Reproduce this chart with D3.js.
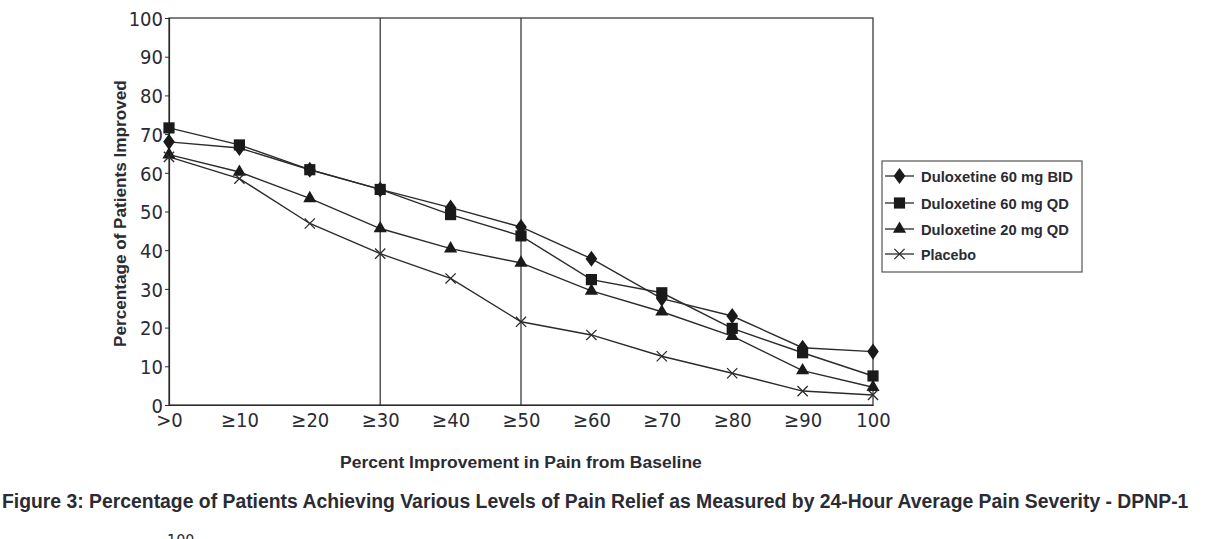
<!DOCTYPE html>
<html><head><meta charset="utf-8">
<script src="https://cdn.jsdelivr.net/npm/d3@7"></script>
<style>
body{margin:0;background:#fff;}
svg{display:block;}
text{font-family:"DejaVu Sans Condensed","Liberation Sans",sans-serif;fill:#2b2b33;}
.b{font-family:"Liberation Sans",Arial,sans-serif;font-weight:bold;}
</style></head><body>
<svg id="c" width="1221" height="539"></svg>
<script>
const categories = [">0","≥10","≥20","≥30","≥40","≥50","≥60","≥70","≥80","≥90","100"];
const bid60 = [68.0,66.4,60.8,55.7,51.0,46.0,37.8,27.5,23.0,14.8,13.8];
const qd60  = [71.6,67.2,60.8,55.7,49.2,43.7,32.4,29.0,19.8,13.5,7.5];
const qd20  = [64.7,60.2,53.4,45.6,40.4,36.7,29.5,24.1,17.8,8.9,4.6];
const placebo = [64.1,58.5,46.9,39.1,32.7,21.5,18.1,12.6,8.2,3.6,2.6];
const seriesNames = ["Duloxetine 60 mg BID","Duloxetine 60 mg QD","Duloxetine 20 mg QD","Placebo"];
const yTicks = [0,10,20,30,40,50,60,70,80,90,100];
const refLines = ["≥30","≥50"];

const svg = d3.select("#c");
const L=169,R=873,T=18,B=405;
const x = d3.scalePoint().domain(categories).range([L,R]);
const y = d3.scaleLinear().domain([0,100]).range([B,T]);
const ink="#2b2b2b";

// condensed bold text: natural text, horizontally scaled to a target width
function fitText(g, str, tx, ty, size, width, rot){
  const t = g.append("text").attr("class","b").style("font-size",size+"px").text(str);
  const w = t.node().getComputedTextLength();
  const s = width / w;
  t.attr("transform",`translate(${tx},${ty})` + (rot?` rotate(${rot})`:"") + ` scale(${s},1)`);
  return t;
}

svg.append("rect").attr("x",L).attr("y",T).attr("width",R-L).attr("height",B-T)
  .attr("fill","none").attr("stroke",ink).attr("stroke-width",1.2);

refLines.forEach(c=>{
  svg.append("line").attr("x1",x(c)).attr("x2",x(c)).attr("y1",T).attr("y2",B)
   .attr("stroke",ink).attr("stroke-width",1.2);
});

const ya = svg.append("g").attr("transform",`translate(${L},0)`)
  .call(d3.axisLeft(y).tickValues(yTicks).tickSize(4).tickPadding(2));
ya.select(".domain").attr("stroke",ink).attr("stroke-width",1.2);
ya.selectAll("line").attr("stroke",ink);
ya.selectAll("text").style("font-size","20px").attr("fill","#2b2b33").attr("dy","0.36em");

const xa = svg.append("g").attr("transform",`translate(0,${B})`)
  .call(d3.axisBottom(x).tickSize(0).tickPadding(8));
xa.select(".domain").attr("stroke",ink).attr("stroke-width",1.2);
xa.selectAll("text").style("font-size","20px").attr("fill","#2b2b33");

fitText(svg,"Percent Improvement in Pain from Baseline",340,468,17,362);
fitText(svg,"Percentage of Patients Improved",126,347,17,267,-90);
fitText(svg,"Figure 3: Percentage of Patients Achieving Various Levels of Pain Relief as Measured by 24-Hour Average Pain Severity - DPNP-1",2,508,21,1187);

svg.append("text").attr("x",167).attr("y",546).style("font-size","16px").attr("fill","#bbb").text("100");

const data = [bid60,qd60,qd20,placebo];
const symbols = [d3.symbolDiamond, d3.symbolSquare, d3.symbolTriangle, d3.symbolTimes];
const sizes = [75,125,75,70];
const line = d3.line().x((d,i)=>x(categories[i])).y(d=>y(d));

function marker(g, k, cx, cy){
  const p = g.append("path").attr("d", d3.symbol().type(symbols[k]).size(sizes[k])())
    .attr("transform",`translate(${cx},${cy})` + (k===0?" scale(1.25,1)":""));
  if(k===3) p.attr("fill","none").attr("stroke",ink).attr("stroke-width",1.3);
  else p.attr("fill","#1a1a1a");
}

data.forEach(vals=>{
  svg.append("path").datum(vals).attr("d",line).attr("fill","none")
    .attr("stroke",ink).attr("stroke-width",1.4);
});
data.forEach((vals,k)=>{
  const g = svg.append("g");
  vals.forEach((v,i)=>marker(g,k,x(categories[i]),y(v)));
});

const lg = svg.append("g");
lg.append("rect").attr("x",882).attr("y",161).attr("width",200).attr("height",111)
  .attr("fill","#fff").attr("stroke","#555").attr("stroke-width",1.2);
const rowsY=[176,203,229,254];
const legLen=[152,148,148,55];
seriesNames.forEach((n,k)=>{
  lg.append("line").attr("x1",885).attr("x2",914).attr("y1",rowsY[k]).attr("y2",rowsY[k])
    .attr("stroke",ink).attr("stroke-width",1.3);
  marker(lg,k,899.5,rowsY[k]);
  fitText(lg,n,921,rowsY[k]+5.5,15,legLen[k]);
});
</script></body></html>
